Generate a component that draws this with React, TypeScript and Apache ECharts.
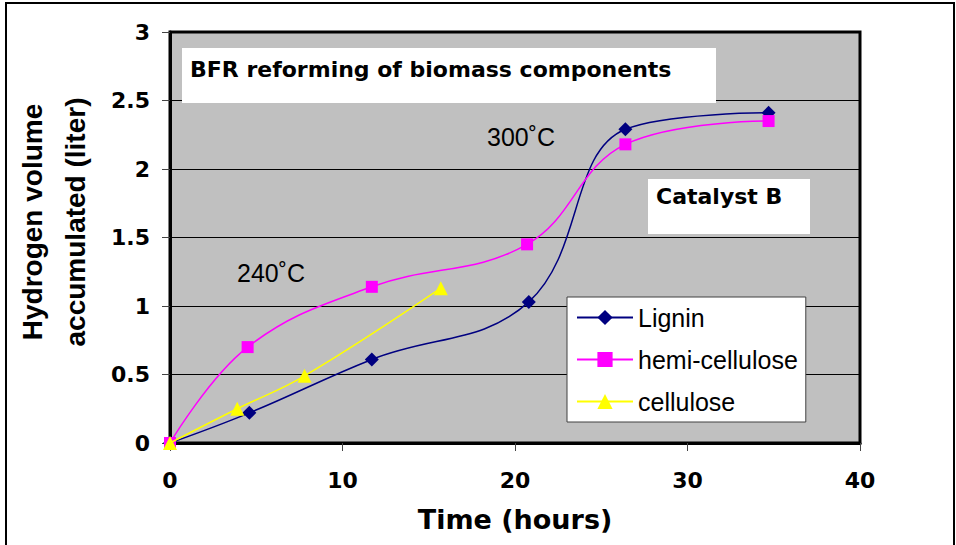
import React, { useEffect, useRef } from "react";
import * as echarts from "echarts";

const xTicks = [0, 10, 20, 30, 40];
const yTicks = [0, 0.5, 1, 1.5, 2, 2.5, 3];

const ligninX = [0, 4.6, 11.7, 20.8, 26.4, 34.7];
const ligninY = [0, 0.22, 0.61, 1.03, 2.29, 2.41];
const hemiX = [0, 4.5, 11.7, 20.7, 26.4, 34.7];
const hemiY = [0, 0.7, 1.14, 1.45, 2.18, 2.35];
const celluloseX = [0, 3.9, 7.8, 15.7];
const celluloseY = [0, 0.25, 0.49, 1.13];

const seriesNames = ["Lignin", "hemi-cellulose", "cellulose"];
const titleText = "BFR reforming of biomass components";
const catalystText = "Catalyst B";
const temp300 = "300˚C";
const temp240 = "240˚C";
const xTitle = "Time (hours)";
const yTitle = "Hydrogen volume\naccumulated (liter)";

const pairs = (xs: number[], ys: number[]) => xs.map((x, i) => [x, ys[i]]);

export default function App() {
  const ref = useRef<HTMLDivElement>(null);
  useEffect(() => {
    if (!ref.current) return;
    const chart = echarts.init(ref.current, null, { renderer: "svg" });
    const boldFont = "DejaVu Sans";
    const regFont = "Liberation Sans";
    chart.setOption({
      animation: false,
      backgroundColor: "#ffffff",
      grid: {
        left: 170,
        top: 32,
        right: 96,
        bottom: 102,
        show: true,
        backgroundColor: "#c0c0c0",
        borderColor: "#000",
        borderWidth: 3,
        z: 0,
      },
      xAxis: {
        type: "value",
        min: xTicks[0],
        max: xTicks[xTicks.length - 1],
        interval: 10,
        name: xTitle,
        nameLocation: "middle",
        nameGap: 63,
        nameTextStyle: { fontFamily: boldFont, fontWeight: "bold", fontSize: 27, color: "#000" },
        axisLine: { show: true, lineStyle: { color: "#000", width: 3 } },
        axisTick: { show: true, length: 8, lineStyle: { color: "#444", width: 1 } },
        axisLabel: { margin: 26, fontFamily: boldFont, fontWeight: "bold", fontSize: 22, color: "#000" },
        splitLine: { show: false },
      },
      yAxis: {
        type: "value",
        min: yTicks[0],
        max: yTicks[yTicks.length - 1],
        interval: 0.5,
        axisLine: { show: true, lineStyle: { color: "#000", width: 3 } },
        axisTick: { show: true, length: 8, lineStyle: { color: "#444", width: 1 } },
        axisLabel: { margin: 20, fontFamily: boldFont, fontWeight: "bold", fontSize: 22, color: "#000" },
        splitLine: { show: true, lineStyle: { color: "#000", width: 1 } },
      },
      legend: {
        data: seriesNames,
        orient: "vertical",
        left: 567,
        top: 297,
        padding: [8, 8, 8, 9],
        itemWidth: 56,
        itemHeight: 19,
        itemGap: 17,
        backgroundColor: "#fff",
        borderColor: "#404040",
        borderWidth: 1,
        textStyle: { fontFamily: regFont, fontSize: 25, color: "#000", lineHeight: 25 },
      },
      graphic: [
        {
          type: "rect",
          shape: { x: 182, y: 48, width: 534, height: 55 },
          style: { fill: "#fff" },
          z: 10,
        },
        {
          type: "text",
          x: 190,
          y: 69,
          style: { text: titleText, fontFamily: boldFont, fontWeight: "bold", fontSize: 22, fill: "#000", textVerticalAlign: "middle" },
          z: 11,
        },
        {
          type: "rect",
          shape: { x: 648, y: 179, width: 162, height: 55 },
          style: { fill: "#fff" },
          z: 10,
        },
        {
          type: "text",
          x: 656,
          y: 196,
          style: { text: catalystText, fontFamily: boldFont, fontWeight: "bold", fontSize: 22, fill: "#000", textVerticalAlign: "middle" },
          z: 11,
        },
        {
          type: "text",
          x: 487,
          y: 137,
          style: { text: temp300, fontFamily: regFont, fontSize: 25, fill: "#000", textVerticalAlign: "middle" },
          z: 11,
        },
        {
          type: "text",
          x: 237,
          y: 273,
          style: { text: temp240, fontFamily: regFont, fontSize: 25, fill: "#000", textVerticalAlign: "middle" },
          z: 11,
        },
        {
          type: "text",
          x: 54,
          y: 222,
          rotation: Math.PI / 2,
          style: {
            text: yTitle,
            fontFamily: regFont,
            fontWeight: "bold",
            fontSize: 28,
            lineHeight: 43,
            fill: "#000",
            textAlign: "center",
            textVerticalAlign: "middle",
          },
          z: 11,
        },
        {
          type: "rect",
          shape: { x: 6, y: 3, width: 948, height: 600 },
          style: { fill: "none", stroke: "#000", lineWidth: 2 },
          z: 12,
        },
      ],
      series: [
        {
          name: seriesNames[0],
          type: "line",
          data: pairs(ligninX, ligninY),
          smooth: 0.4,
          symbol: "diamond",
          symbolSize: 14,
          lineStyle: { color: "#000080", width: 1.5 },
          itemStyle: { color: "#000080" },
          z: 5,
        },
        {
          name: seriesNames[1],
          type: "line",
          data: pairs(hemiX, hemiY),
          smooth: 0.4,
          symbol: "rect",
          symbolSize: 12,
          lineStyle: { color: "#ff00ff", width: 1.5 },
          itemStyle: { color: "#ff00ff" },
          z: 6,
        },
        {
          name: seriesNames[2],
          type: "line",
          data: pairs(celluloseX, celluloseY),
          smooth: 0.4,
          symbol: "triangle",
          symbolSize: 14,
          lineStyle: { color: "#ffff00", width: 1.5 },
          itemStyle: { color: "#ffff00" },
          z: 7,
        },
      ],
    });
    return () => chart.dispose();
  }, []);
  return (
    <div
      ref={ref}
      style={{ position: "fixed", left: 0, top: 0, width: 956, height: 545 }}
    />
  );
}
